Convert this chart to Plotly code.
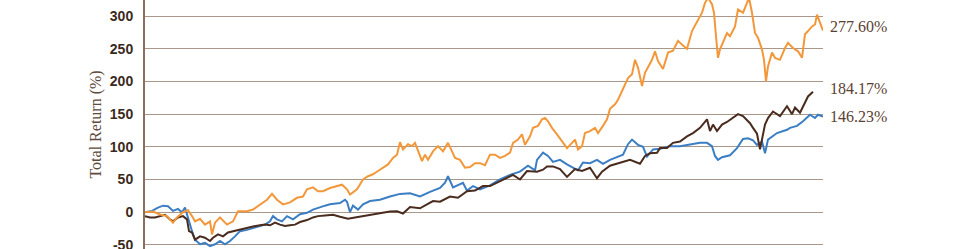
import plotly.graph_objects as go

# time positions (arbitrary trading-time units) and total return values (%)
orange_t = [0, 8, 15, 22, 28, 32, 38, 43, 47, 50, 55, 60, 65, 67, 70, 75, 82, 88, 93, 102, 108, 115, 122,
            127, 132, 138, 145, 152, 158, 162, 168, 173, 178, 185, 192, 197, 202, 205, 212, 218, 223, 228,
            233, 238, 243, 248, 252, 255, 258, 263, 267, 270, 273, 277, 280, 283, 288, 293, 298, 303, 307,
            310, 315, 320, 325, 330, 335, 340, 345, 350, 355, 360, 365, 368, 373, 377, 380, 385, 388, 393,
            397, 400, 403, 407, 412, 417, 422, 427, 430, 433, 437, 440, 445, 450, 453, 458, 462, 465, 470,
            473, 477, 480, 483, 487, 490, 493, 497, 500, 503, 507, 510, 513, 518, 523, 528, 533, 538, 542,
            547, 552, 557, 560, 563, 567, 569, 571, 573, 575, 578, 582, 585, 590, 593, 598, 602, 604, 607,
            610, 613, 617, 619, 621, 623, 627, 630, 635, 640, 643, 648, 653, 657, 660, 663, 667, 670, 672,
            675, 678]
orange_v = [0, 1, -3.5, -6, -16, -8, 0, 3, -6, -14, -10, -19, -14, -34, -16, -8, -19, -14, 1.5, 1.5, 4,
            12, 19, 28, 19, 12, 15, 22, 24, 35, 38, 32, 32, 37, 40, 42, 35, 27, 35, 50, 55, 58,
            63, 68, 73, 83, 88, 107, 96, 104, 101, 106, 93, 78, 88, 80, 93, 101, 93, 106, 93,
            83, 80, 68, 69, 75, 75, 72, 88, 88, 83, 86, 91, 106, 111, 119, 103, 116, 129, 132,
            142, 144, 139, 129, 119, 109, 98, 106, 111, 96, 101, 121, 124, 129, 121, 132, 142, 158, 165,
            172, 185, 195, 205, 211, 233, 221, 193, 213, 221, 233, 246, 231, 219, 244, 247, 262, 255, 250,
            277, 291, 305, 320, 328, 318, 305, 269, 236, 249, 259, 274, 269, 284, 310, 305, 320, 328, 305,
            274, 267, 249, 233, 200, 223, 244, 236, 233, 251, 259, 251, 246, 236, 272, 277, 284, 287, 302,
            290, 277.6]

brown_t = [0, 5, 10, 15, 20, 25, 28, 33, 38, 42, 44, 47, 50, 55, 60, 65, 68, 73, 78, 83, 88, 95, 102,
           108, 115, 120, 125, 130, 135, 140, 145, 150, 155, 162, 168, 173, 180, 188, 195, 203, 210, 217,
           225, 235, 245, 252, 258, 265, 275, 282, 288, 295, 305, 313, 322, 330, 338, 345, 355, 362, 368,
           375, 382, 392, 398, 402, 408, 415, 422, 430, 437, 445, 452, 457, 462, 465, 475, 485, 495, 500,
           505, 512, 515, 522, 528, 535, 542, 548, 555, 562, 565, 568, 572, 577, 582, 588, 593, 598, 605,
           608, 612, 615, 618, 620, 623, 628, 635, 642, 647, 650, 655, 660, 663, 668, 673, 678]
brown_v = [-6, -8, -8, -6, -4, -11, -14, -8, -6, -11, -29, -31, -42, -37, -39, -44, -39, -34, -37, -31,
           -29, -26, -24, -22, -20, -19, -20, -16, -19, -21, -20, -19, -15, -12, -8, -6, -5, -4, -7, -10,
           -8, -6, -4, -1, 1, 1.5, -2, 8, 6, 12, 17, 16, 24, 22, 32, 33, 40, 40, 47, 52, 57, 50,
           63, 62, 65, 70, 70, 66, 54, 66, 63, 68, 52, 62, 68, 71, 75.5, 80, 74, 86, 90, 91,
           98, 98, 106, 108, 116, 121, 129, 142, 124, 134, 124, 134, 138, 144, 150, 147, 136, 129, 120, 96,
           121, 134, 144, 154, 147, 162, 150, 160, 152, 167, 177, 184.17]

blue_t = [0, 7, 13, 18, 23, 28, 33, 37, 40, 43, 47, 50, 55, 60, 65, 70, 75, 80, 85, 90, 95, 102, 108,
          115, 120, 125, 128, 132, 137, 142, 148, 155, 162, 168, 173, 180, 185, 195, 200, 202, 205, 208,
          213, 218, 225, 235, 245, 255, 265, 275, 285, 295, 300, 303, 308, 313, 318, 322, 328, 335, 345,
          355, 365, 375, 383, 390, 392, 398, 403, 408, 415, 422, 428, 433, 438, 445, 452, 458, 465, 472,
          478, 483, 487, 493, 498, 502, 508, 515, 525, 535, 545, 555, 562, 567, 570, 573, 577, 585, 592,
          598, 603, 608, 612, 617, 620, 623, 632, 638, 642, 645, 652, 658, 665, 670, 673, 678]
blue_v = [0, 2, 7, 10, 9, 2, 5, 0, 7, -10, -29, -42, -49, -47, -52, -49, -44, -49, -44, -37, -29, -27,
          -24, -21, -19, -14, -6, -11, -14, -6, -11, -3, -1, 4, 7, 10, 12, 14, 19, 16, 0, 10,
          4, 12, 17, 19, 24, 28, 29, 24, 31, 37, 45, 55, 38, 42, 45, 33, 40, 35, 41,
          50, 57, 62, 71, 64, 80, 91, 86, 77, 80, 73, 68, 64, 76, 75, 80, 74, 80, 84,
          88, 104, 111, 103, 100, 85, 96, 97, 101, 101, 103, 106, 106, 101, 86, 80, 84, 87, 98,
          112, 113, 110, 103, 108, 90, 111, 121, 124, 126, 129, 132, 139, 149, 144, 149, 146.23]

series_names = ["Orange series", "Brown series", "Blue series"]
series_colors = ["#F3983A", "#4A2C1E", "#3C7EC3"]
end_labels = ["277.60%", "184.17%", "146.23%"]
label_shift = [4, 3, 0]

y_ticks = [-50, 0, 50, 100, 150, 200, 250, 300]
y_title = "Total Return (%)"

fig = go.Figure()
# draw order: blue, brown, orange on top
for t, v, name, color in [(blue_t, blue_v, series_names[2], series_colors[2]),
                          (brown_t, brown_v, series_names[1], series_colors[1]),
                          (orange_t, orange_v, series_names[0], series_colors[0])]:
    fig.add_trace(go.Scatter(x=t, y=v, mode="lines", name=name,
                             line=dict(color=color, width=2), showlegend=False))

for t, v, lab, sh in zip([orange_t, brown_t, blue_t], [orange_v, brown_v, blue_v], end_labels, label_shift):
    fig.add_annotation(x=t[-1], y=v[-1], text=lab, showarrow=False, xanchor="left", yanchor="middle",
                       xshift=5, yshift=sh,
                       font=dict(family="Liberation Serif", size=16, color="#5A4232"))

fig.add_annotation(xref="paper", yref="paper", x=-0.0737, y=0.50, text=y_title, textangle=-90,
                   showarrow=False, xanchor="center", yanchor="middle",
                   font=dict(family="Liberation Serif", size=16, color="#5E4A3C"))

fig.update_layout(
    width=960, height=249,
    margin=dict(l=145, r=137, t=0, b=0, autoexpand=False),
    paper_bgcolor="white", plot_bgcolor="white",
    xaxis=dict(range=[0, 678], visible=False, automargin=False),
    yaxis=dict(range=[-56.27, 324.46], tickvals=y_ticks, ticktext=[str(v) for v in y_ticks],
               automargin=False,
               showgrid=True, gridcolor="#A8978A", gridwidth=1, zeroline=False,
               showline=True, linecolor="#8C6E5E", linewidth=2, ticks="", ticklabelstandoff=7,
               ticklabeloverflow="allow",
               tickfont=dict(family="Liberation Sans", size=14, color="#3B2A20", weight="bold")),
)

fig.write_html("out.html")
